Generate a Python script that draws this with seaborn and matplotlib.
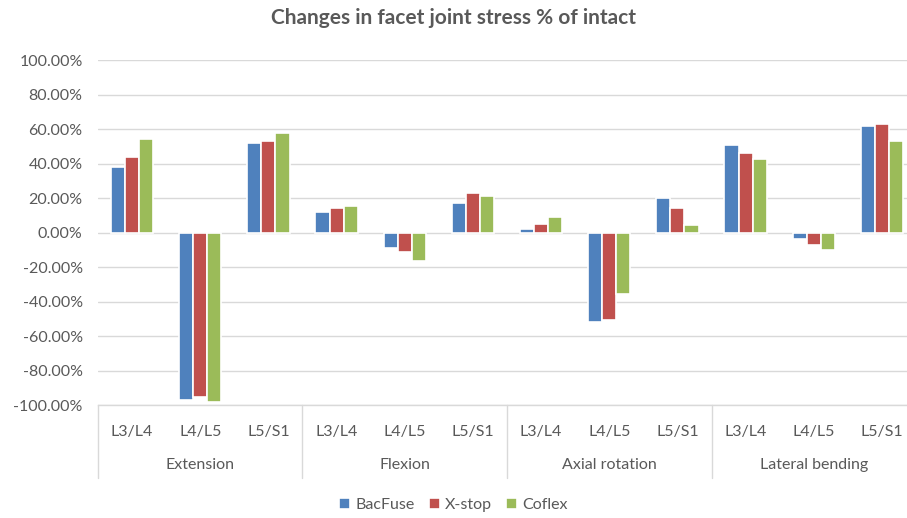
import matplotlib
matplotlib.use("Agg")
import matplotlib.pyplot as plt
import seaborn as sns
import pandas as pd
import numpy as np
from matplotlib.ticker import FuncFormatter

# ---- data ----
groups = ["Extension", "Flexion", "Axial rotation", "Lateral bending"]
levels = ["L3/L4", "L4/L5", "L5/S1"]
devices = ["BacFuse", "X-stop", "Coflex"]
bacfuse = [0.38, -0.97, 0.52, 0.12, -0.09, 0.17, 0.02, -0.52, 0.20, 0.51, -0.04, 0.62]
xstop   = [0.44, -0.955, 0.53, 0.14, -0.11, 0.23, 0.05, -0.505, 0.14, 0.46, -0.07, 0.63]
coflex  = [0.54, -0.98, 0.58, 0.155, -0.165, 0.21, 0.09, -0.355, 0.045, 0.425, -0.10, 0.53]
colors = ["#4F81BD", "#C0504D", "#9BBB59"]

cats = [f"{g}|{l}" for g in groups for l in levels]
df = pd.DataFrame({
    "cat": cats * 3,
    "device": np.repeat(devices, len(cats)),
    "value": bacfuse + xstop + coflex,
})

sns.set_theme(style="white")
plt.rcParams["font.family"] = ["Lato", "DejaVu Sans"]
txt = "#595959"
grid = "#D9D9D9"

fig = plt.figure(figsize=(9.07, 5.18), dpi=100)
ax = fig.add_axes([0.108, 0.218, 0.902, 0.666])

sns.barplot(data=df, x="cat", y="value", hue="device", order=cats,
            hue_order=devices, palette=colors, saturation=1, width=0.62, ax=ax,
            edgecolor="white", linewidth=1.2, legend=True, zorder=3)


def pct(v, p):
    v = round(v * 100, 2)
    if v == 0:
        v = 0.0
    return f"{v:.2f}%"


ax.set_ylim(-1.0, 1.0)
ax.set_yticks(np.arange(-1.0, 1.01, 0.2))
ax.yaxis.set_major_formatter(FuncFormatter(pct))
ax.set_xlim(-0.5, len(cats) - 0.5)
ax.set_xticks(range(len(cats)))
ax.set_xticklabels(levels * len(groups))
ax.set_xlabel("")
ax.set_ylabel("")
ax.grid(axis="y", color=grid, linewidth=1.0, zorder=0)
ax.set_axisbelow(True)
for s in ["top", "left", "right"]:
    ax.spines[s].set_visible(False)
ax.spines["bottom"].set_color(grid)
ax.spines["bottom"].set_linewidth(1.0)
ax.tick_params(axis="both", length=0, labelsize=11.5, colors=txt)
ax.tick_params(axis="x", pad=14)
ax.tick_params(axis="y", pad=11)

tr = ax.get_xaxis_transform()
for i in range(len(groups) + 1):
    xs = i * 3 - 0.5
    ax.plot([xs, xs], [0, -0.212], transform=tr, color=grid, linewidth=1.0,
            clip_on=False)
for i, g in enumerate(groups):
    ax.text(i * 3 + 1, -0.174, g, transform=tr, ha="center", va="center",
            fontsize=11.5, color=txt)

fig.text(0.5, 0.965, "Changes in facet joint stress % of intact", ha="center",
         va="center", fontsize=15, fontweight="bold", color=txt)

h, l = ax.get_legend_handles_labels()
ax.legend_.remove()
fig.legend(h, l, loc="center", bbox_to_anchor=(0.5, 0.025), ncol=3,
           frameon=False, handlelength=0.7, handleheight=0.7,
           handletextpad=0.3, columnspacing=0.9, fontsize=11.5,
           labelcolor=txt)

fig.savefig("out.png", dpi=100)
